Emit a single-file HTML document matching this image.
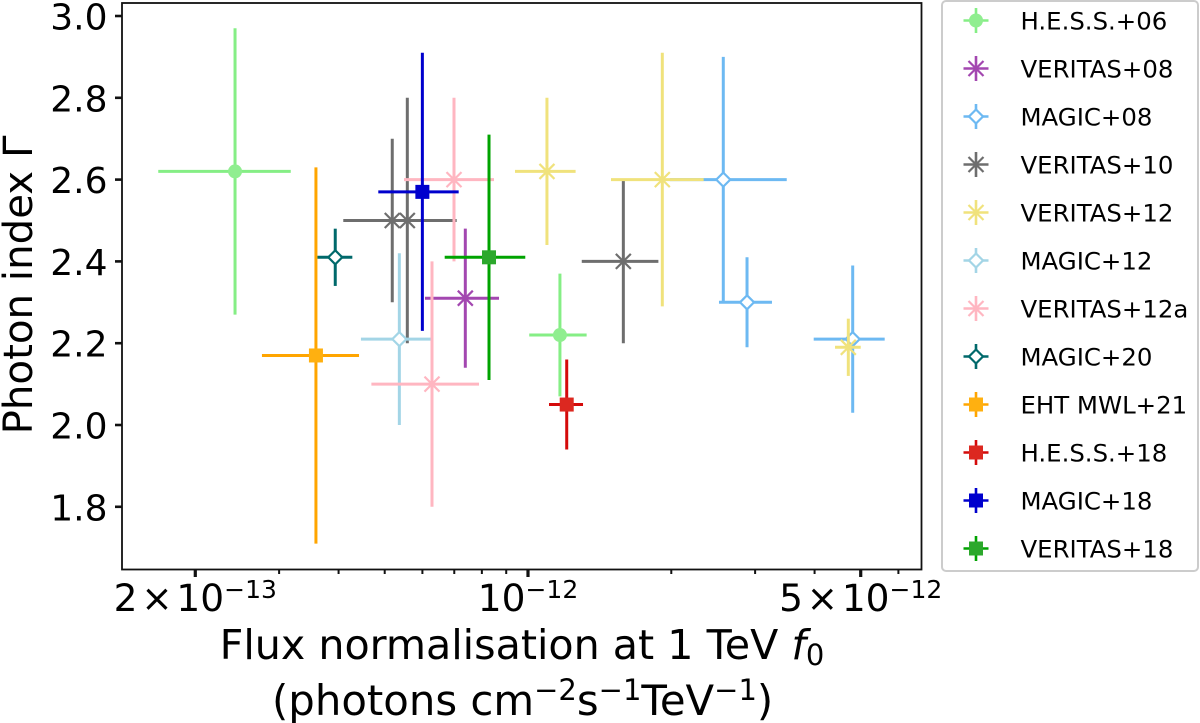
<!DOCTYPE html>
<html lang="en">
<head>
<meta charset="utf-8">
<title>Photon index vs flux normalisation</title>
<style>
html,body{margin:0;padding:0;background:#fff;}
#chart{display:block;font-family:"DejaVu Sans","Liberation Sans",sans-serif;}
</style>
</head>
<body>
<svg id="chart" xmlns="http://www.w3.org/2000/svg" width="1200" height="723" viewBox="0 0 1200 723">
  <rect x="0" y="0" width="1200" height="723" fill="#fff"/>
  <g id="marks"></g>
  <rect x="122" y="3" width="799.5" height="566.5" fill="none" stroke="#111" stroke-width="1.8"/>
  <g id="ticks"></g>
  <text transform="translate(32,285) rotate(-90)" text-anchor="middle" font-size="40.3" fill="#000">Photon index Γ</text>
  <text x="522" y="659" text-anchor="middle" font-size="41.2" fill="#000">Flux normalisation at 1 TeV <tspan font-style="italic">f</tspan><tspan font-size="29" dy="6">0</tspan></text>
  <text x="272" y="715" font-size="41.8" fill="#000">(photons cm<tspan font-size="29" dy="-15">−2</tspan><tspan dy="15">s</tspan><tspan font-size="29" dy="-15">−1</tspan><tspan dy="15">TeV</tspan><tspan font-size="29" dy="-15">−1</tspan><tspan dy="15">)</tspan></text>
  <g id="legend">
    <rect x="942" y="1" width="256" height="570" rx="4" ry="4" fill="#fff" stroke="#ccc" stroke-width="2"/>
  </g>
</svg>
<script>
// Series names, in legend order
const seriesNames = ["H.E.S.S.+06","VERITAS+08","MAGIC+08","VERITAS+10","VERITAS+12","MAGIC+12","VERITAS+12a","MAGIC+20","EHT MWL+21","H.E.S.S.+18","MAGIC+18","VERITAS+18"];
// Which series each measurement belongs to
const pointSeries = [0,0,1,2,2,2,3,3,3,4,4,4,5,6,6,7,8,9,10,11];
// Flux normalisation at 1 TeV (photons cm^-2 s^-1 TeV^-1)
const fluxValues = [2.424e-13,1.167e-12,7.384e-13,2.572e-12,2.885e-12,4.81e-12,5.186e-13,5.578e-13,1.586e-12,1.096e-12,1.915e-12,4.709e-12,5.367e-13,6.991e-13,6.285e-13,3.936e-13,3.585e-13,1.206e-12,5.999e-13,8.281e-13];
const fluxLow = [1.672e-13,1.006e-12,6.075e-13,1.987e-12,2.519e-12,3.983e-12,4.092e-13,4.436e-13,1.297e-12,9.39e-13,1.494e-12,4.416e-12,4.457e-13,5.489e-13,4.688e-13,3.608e-13,2.761e-13,1.107e-12,4.847e-13,6.683e-13];
const fluxHigh = [3.174e-13,1.328e-12,8.692e-13,3.496e-12,3.255e-12,5.615e-12,6.531e-13,7.083e-13,1.879e-12,1.259e-12,2.339e-12,5.0e-12,6.246e-13,8.484e-13,7.89e-13,4.275e-13,4.416e-13,1.305e-12,7.151e-13,9.87e-13];
// Photon index
const indexValues = [2.62,2.22,2.31,2.60,2.30,2.21,2.50,2.50,2.40,2.62,2.60,2.19,2.21,2.60,2.10,2.41,2.17,2.05,2.57,2.41];
const indexLow = [2.27,2.07,2.14,2.30,2.19,2.03,2.30,2.20,2.20,2.44,2.29,2.12,2.00,2.40,1.80,2.34,1.71,1.94,2.23,2.11];
const indexHigh = [2.97,2.37,2.48,2.90,2.41,2.39,2.70,2.80,2.60,2.80,2.91,2.26,2.42,2.80,2.40,2.48,2.63,2.16,2.91,2.71];
// Axis ticks
const yTickValues = [1.8,2.0,2.2,2.4,2.6,2.8,3.0];
const xMajorTickValues = [2e-13,1e-12,5e-12];
const xMinorTickValues = [3e-13,4e-13,5e-13,6e-13,7e-13,8e-13,9e-13,2e-12,3e-12,4e-12,6e-12];
const xTickMantissas = ["2\u200a×\u200a10","10","5\u200a×\u200a10"];
const xTickExponents = ["−13","−12","−12"];

// Per-series styling
const seriesLine = ["#85ee85","#a347b0","#6db9f2","#6e6e6e","#f0e27c","#a3d5e6","#ffb6c1","#00696b","#ffa500","#d40a0a","#0000cd","#00a300"];
const seriesFill = ["#90ee90","#a347b0","#fff","#6e6e6e","#f0e27c","#fff","#ffb6c1","#fff","#ffb010","#dc2820","#0000cd","#2ca82c"];
const seriesShape = ["circle","x","diamond","x","x","diamond","x","diamond","square","square","square","square"];

const NS = "http://www.w3.org/2000/svg";
const xScale = f => 528 + 476 * (Math.log10(f) + 12);
const yScale = v => 16 + (3 - v) * 409;
const fmt = n => n.toFixed(2);

function make(tag, attrs, parent) {
  const el = document.createElementNS(NS, tag);
  for (const k in attrs) el.setAttribute(k, attrs[k]);
  parent.appendChild(el);
  return el;
}

function drawPoint(parent, s, cx, cy, x0, x1, y0, y1, lw) {
  const col = seriesLine[s];
  const h = make("line", {x1: fmt(x0), y1: fmt(cy), x2: fmt(x1), y2: fmt(cy), stroke: col, "stroke-width": lw}, parent);
  
  
  const v = make("line", {x1: fmt(cx), y1: fmt(y0), x2: fmt(cx), y2: fmt(y1), stroke: col, "stroke-width": lw}, parent);
  
  
  const shape = seriesShape[s];
  let m;
  if (shape === "circle") {
    m = make("circle", {cx: fmt(cx), cy: fmt(cy), r: 7, fill: seriesFill[s]}, parent);
  } else if (shape === "square") {
    m = make("rect", {x: fmt(cx - 7), y: fmt(cy - 7), width: 14, height: 14, fill: seriesFill[s]}, parent);
  } else if (shape === "diamond") {
    m = make("path", {d: `M${fmt(cx)} ${fmt(cy - 7)}L${fmt(cx + 7)} ${fmt(cy)}L${fmt(cx)} ${fmt(cy + 7)}L${fmt(cx - 7)} ${fmt(cy)}Z`, fill: "#fff", stroke: col, "stroke-width": 2.2}, parent);
  } else {
    m = make("path", {d: `M${fmt(cx - 7.5)} ${fmt(cy - 7.5)}L${fmt(cx + 7.5)} ${fmt(cy + 7.5)}M${fmt(cx - 7.5)} ${fmt(cy + 7.5)}L${fmt(cx + 7.5)} ${fmt(cy - 7.5)}`, fill: "none", stroke: col, "stroke-width": 2.2}, parent);
  }
  
  
}

const marks = document.getElementById("marks");
seriesNames.forEach((name, s) => {
  const g = make("g", {}, marks);
  
  
  pointSeries.forEach((ps, i) => {
    if (ps !== s) return;
    drawPoint(g, s, xScale(fluxValues[i]), yScale(indexValues[i]),
      xScale(fluxLow[i]), xScale(fluxHigh[i]), yScale(indexHigh[i]), yScale(indexLow[i]), 3);
  });
});

const ticks = document.getElementById("ticks");
yTickValues.forEach(v => {
  const y = yScale(v);
  const t = make("line", {x1: 115, x2: 122, y1: fmt(y), y2: fmt(y), stroke: "#111", "stroke-width": 2.6}, ticks);
  
  
  const l = make("text", {x: 107.5, y: fmt(y + 13.5), "text-anchor": "end", "font-size": 36, fill: "#000"}, ticks);
  
  
  l.textContent = v.toFixed(1);
});
xMinorTickValues.forEach(f => {
  const x = xScale(f);
  const t = make("line", {x1: fmt(x), x2: fmt(x), y1: 569.5, y2: 574, stroke: "#111", "stroke-width": 2}, ticks);
  
  
});
xMajorTickValues.forEach((f, i) => {
  const x = xScale(f);
  const t = make("line", {x1: fmt(x), x2: fmt(x), y1: 569.5, y2: 577, stroke: "#111", "stroke-width": 3.2}, ticks);
  
  
  const mantissa = make("text", {x: 0, y: 611, "font-size": 37.5, fill: "#000"}, ticks);
  
  
  mantissa.textContent = xTickMantissas[i];
  const expo = make("text", {x: 0, y: 598, "font-size": 25, fill: "#000"}, ticks);
  
  
  expo.textContent = xTickExponents[i];
  // Centre the combined mantissa + exponent label on its tick
  const mw = mantissa.getComputedTextLength();
  const ew = expo.getComputedTextLength();
  const left = x - (mw + ew) / 2;
  mantissa.setAttribute("x", fmt(left));
  expo.setAttribute("x", fmt(left + mw));
});

const legend = document.getElementById("legend");
seriesNames.forEach((name, s) => {
  const cy = 20.5 + s * 48;
  const g = make("g", {}, legend);
  
  
  drawPoint(g, s, 976, cy, 963.5, 988.5, cy - 12.5, cy + 12.5, 2.6);
  const t = make("text", {x: 1020.5, y: fmt(cy + 9), "font-size": 24.4, fill: "#000"}, g);
  
  
  t.textContent = name;
});
</script>
</body>
</html>
